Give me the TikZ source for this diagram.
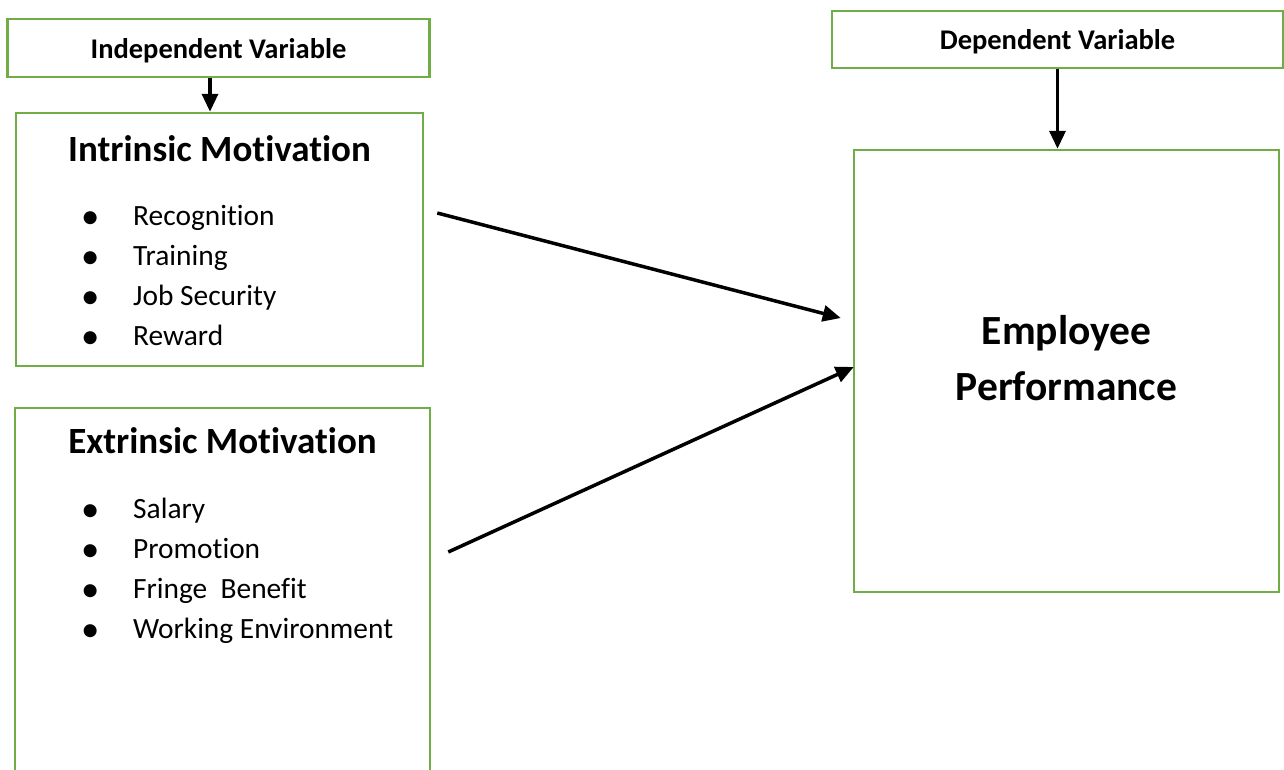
\documentclass[tikz,border=0pt]{standalone}
\usepackage{fontspec}
\setmainfont{Carlito}[Ligatures={NoCommon}]
\usepackage{tikz}
\usetikzlibrary{calc,arrows.meta}
\definecolor{boxgreenc}{HTML}{70AD47}
\colorlet{boxgreen}{boxgreenc}
\newcommand{\bul}{\makebox[52pt][l]{\raisebox{-3pt}{\scalebox{1.25}{\textbullet}}}}% bullet column
\tikzstyle{varbox} =[
    draw=boxgreen,
    line width=2.5pt,
    rectangle,
    inner sep=0pt,
    text height=20.5pt,
    text depth=0pt,
    font=\bfseries\fontsize{28.5}{34}\selectfont
    ]
\tikzstyle{motbox} = [
    draw=boxgreen,
    line width=2.5pt,
    rectangle,
    inner sep=0pt
    ]
\tikzstyle{mottitle} = [
    inner sep=0pt,
    anchor=base,
    font=\bfseries\fontsize{37}{44}\selectfont
    ]
\tikzstyle{motlist} = [
    inner sep=0pt,
    anchor=base west,
    font=\fontsize{29.4}{40}\selectfont
    ]
\tikzstyle{perftext} = [
    inner sep=0pt,
    anchor=base,
    font=\bfseries\fontsize{41.5}{56}\selectfont
    ]
\tikzstyle{link} = [
    line width=3.5pt,
    -{Triangle[length=18pt,width=16pt]}
    ]

\begin{document}
\begin{tikzpicture}[x=1pt,y=-1pt]
\useasboundingbox (0,0) rectangle (1284,769);

\node[varbox, minimum width=422pt, minimum height=58pt] (indep) at (218.5,48) {Independent Variable};
\node[varbox, minimum width=451pt, minimum height=57pt] (dep) at (1057.5,39.5) {Dependent Variable};

\node[motbox, minimum width=407pt, minimum height=253pt] (intr) at (219.5,239.5) {};
\node[motbox, minimum width=415pt, minimum height=400pt] (extr) at (222.5,608) {};
\node[motbox, minimum width=425pt, minimum height=442pt] (perf) at (1066.5,371) {};

\node[mottitle] (intrtitle) at (219.5,161) {Intrinsic Motivation};
\node[motlist] (intrlist) at (81,225) {%
    \begin{tabular}[t]{@{}l@{}}
    \bul Recognition\\
    \bul Training\\
    \bul Job Security\\
    \bul Reward
    \end{tabular}};

\node[mottitle] (extrtitle) at (222.5,453) {Extrinsic Motivation};
\node[motlist] (extrlist) at (81,518) {%
    \begin{tabular}[t]{@{}l@{}}
    \bul Salary\\
    \bul Promotion\\
    \bul Fringe\ \ Benefit\\
    \bul Working Environment
    \end{tabular}};

\node[perftext] (perflabel) at (1066.5,344) {%
    \begin{tabular}[t]{@{}c@{}}
    Employee\\
    Performance
    \end{tabular}};

\coordinate (introut) at ($(intr.east)+(13,-26.5)$);
\coordinate (extrout) at ($(extr.east)+(17,-56)$);
\coordinate (perfin) at ($(perf.west)+(-12,-53)$);
\coordinate (perfin2) at ($(perf.west)+(1,-4)$);

\draw[link] ([xshift=-8.5pt]indep.south) -- ([xshift=-9.5pt]intr.north);
\draw[link] (dep.south) -- (dep.south |- perf.north);
\draw[link] (introut) -- (perfin);
\draw[link] (extrout) -- (perfin2);
\end{tikzpicture}
\end{document}
